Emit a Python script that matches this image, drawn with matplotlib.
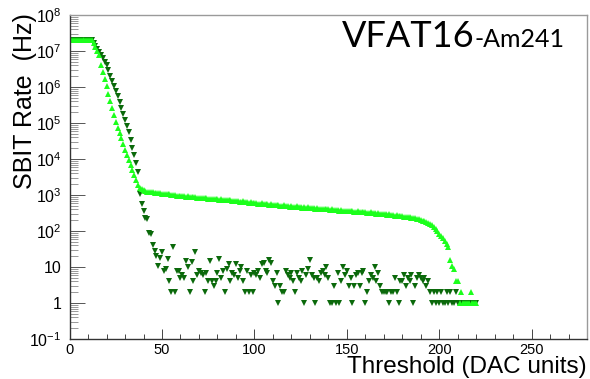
import numpy as np
import matplotlib.pyplot as plt
from matplotlib.ticker import FixedLocator, FixedFormatter, MultipleLocator, LogLocator, NullFormatter

plt.rcParams["font.family"] = ["Liberation Sans", "DejaVu Sans"]
plt.rcParams["mathtext.fontset"] = "custom"
plt.rcParams["mathtext.rm"] = "Liberation Sans"
plt.rcParams["mathtext.it"] = "Liberation Sans:italic"

# threshold scan, one step per DAC unit
threshold = np.arange(0, 221)

# upper curve (light green, up triangles)
rate_light = [
    2.0e7, 2.0e7, 2.0e7, 2.0e7, 2.0e7, 2.0e7, 2.0e7, 2.0e7, 2.0e7, 2.0e7,      # 0
    2.0e7, 2.0e7, 2.0e7, 1.7e7, 1.3e7, 1.0e7, 8.0e6, 4.0e6, 2.6e6, 1.7e6,      # 10
    1.1e6, 6.5e5, 4.0e5, 2.6e5, 1.7e5, 1.1e5, 7.5e4, 5.2e4, 3.8e4, 2.6e4,      # 20
    1.8e4, 1.3e4, 9.5e3, 7.0e3, 5.0e3, 3.6e3, 2.6e3, 1.9e3, 1.6e3, 1.45e3,     # 30
    1350, 1300, 1250, 1230, 1190, 1210, 1160, 1140, 1170, 1110,                # 40
    1080, 1100, 1060, 1040, 1070, 1010, 990, 1020, 970, 960,                   # 50
    940, 960, 920, 900, 930, 880, 890, 860, 870, 840,                          # 60
    850, 830, 840, 810, 820, 790, 800, 780, 770, 790,                          # 70
    760, 750, 770, 730, 740, 720, 710, 730, 690, 700,                          # 80
    670, 690, 660, 650, 670, 640, 630, 620, 640, 600,                          # 90
    590, 600, 580, 570, 590, 560, 550, 570, 540, 550,                          # 100
    540, 530, 520, 540, 510, 500, 520, 490, 500, 480,                          # 110
    490, 480, 470, 490, 460, 470, 450, 460, 440, 455,                          # 120
    445, 430, 440, 420, 435, 410, 420, 405, 415, 400,                          # 130
    400, 390, 405, 380, 390, 375, 370, 385, 360, 370,                          # 140
    360, 355, 350, 365, 345, 340, 350, 335, 345, 330,                          # 150
    330, 325, 320, 330, 310, 315, 305, 310, 300, 295,                          # 160
    295, 290, 285, 290, 280, 275, 270, 275, 265, 260,                          # 170
    255, 250, 250, 240, 245, 235, 230, 225, 220, 210,                          # 180
    205, 195, 190, 180, 170, 160, 145, 130, 115, 100,                          # 190
    85, 73, 63, 52, 43, 35, 16, 11, 9, 4,                                      # 200
    4, 1, 2, 1, 1, 1, 1, 2, 1, 1,                                              # 210
    1,                                                                         # 220
]

# lower curve (dark green, down triangles)
rate_dark = [
    2.0e7, 2.0e7, 2.0e7, 2.0e7, 2.0e7, 2.0e7, 2.0e7, 2.0e7, 2.0e7, 2.0e7,      # 0
    2.0e7, 2.0e7, 2.0e7, 1.7e7, 1.4e7, 1.15e7, 9.6e6, 7.8e6, 6.3e6, 5.0e6,     # 10
    4.0e6, 2.9e6, 2.1e6, 1.5e6, 1.05e6, 7.8e5, 5.6e5, 3.9e5, 2.7e5, 1.8e5,     # 20
    1.25e5, 8.5e4, 5.5e4, 3.5e4, 2.1e4, 1.3e4, 8.0e3, 4.4e3, 1100, 580,        # 30
    350, 225, 210, 90, 85, 41, 28, 20, 11, 18,                                 # 40
    26, 8, 9, 17, 4, 2, 35, 2, 8, 8,                                           # 50
    5, 6, 5, 15, 10, 2, 14, 4, 26, 6,                                          # 60
    8, 7, 6, 2, 7, 4, 15, 4, 3, 4,                                             # 70
    7, 17, 5, 8, 2, 9, 12, 4, 7, 6,                                            # 80
    12, 5, 8, 10, 4, 2, 8, 2, 6, 2,                                            # 90
    7, 6, 8, 5, 12, 13, 8, 7, 16, 13,                                          # 100
    4, 3, 7, 1, 3, 2, 2, 8, 6, 5,                                              # 110
    7, 4, 2, 7, 5, 4, 8, 1, 6, 9,                                              # 120
    16, 6, 5, 1, 5, 4, 7, 8, 6, 10,                                            # 130
    5, 1, 1, 3, 1, 7, 1, 4, 10, 6,                                             # 140
    8, 3, 5, 1, 3, 6, 7, 3, 7, 8,                                              # 150
    1, 2, 4, 6, 5, 10, 4, 7, 3, 2,                                             # 160
    2, 2, 2, 1, 2, 2, 5, 2, 1, 4,                                              # 170
    4, 6, 3, 5, 4, 6, 1, 3, 5, 6,                                              # 180
    5, 4, 5, 3, 4, 2, 1, 2, 1, 2,                                              # 190
    1, 2, 1, 1, 2, 1, 2, 1, 1, 2,                                              # 200
    1, 1, 1, 1, 1, 1, 1, 1, 1, 1,                                              # 210
    1,                                                                         # 220
]

decades = [1e-1, 1, 10, 1e2, 1e3, 1e4, 1e5, 1e6, 1e7, 1e8]
decade_labels = ["10$^{-1}$", "1", "10", "10$^{2}$", "10$^{3}$", "10$^{4}$",
                 "10$^{5}$", "10$^{6}$", "10$^{7}$", "10$^{8}$"]

fig = plt.figure(figsize=(5.9, 3.79), dpi=100)
ax = fig.add_axes([0.118, 0.1055, 0.877, 0.8545])

ax.plot(threshold, rate_dark, linestyle="none", marker="v", ms=4.8, mew=0, color="#0b690b")
ax.plot(threshold, rate_light, linestyle="none", marker="^", ms=4.8, mew=0, color="#1cff1c")

ax.set_yscale("log")
ax.set_xlim(0, 280)
ax.set_ylim(1e-1, 1e8)

ax.yaxis.set_major_locator(FixedLocator(decades))
ax.yaxis.set_major_formatter(FixedFormatter(decade_labels))
ax.yaxis.set_minor_locator(LogLocator(base=10, subs=np.arange(2, 10), numticks=50))
ax.yaxis.set_minor_formatter(NullFormatter())
ax.xaxis.set_major_locator(MultipleLocator(50))
ax.xaxis.set_minor_locator(MultipleLocator(10))

ax.tick_params(axis="y", which="major", direction="in", length=11, width=0.7,
               color="#555555", labelsize=11.5, pad=6, right=False)
ax.tick_params(axis="y", which="minor", direction="in", length=6, width=0.6,
               color="#888888", right=False)
ax.tick_params(axis="x", which="major", direction="in", length=7, width=0.7,
               color="#444444", labelsize=10.5, pad=3, top=False)
ax.tick_params(axis="x", which="minor", direction="in", length=3.5, width=0.7,
               color="#444444", top=False)

for side in ["left", "bottom"]:
    ax.spines[side].set_color("#333333")
    ax.spines[side].set_linewidth(1.0)
for side in ["top", "right"]:
    ax.spines[side].set_color("#9a9a9a")
    ax.spines[side].set_linewidth(1.0)

fig.text(25 / 590, 1 - 101 / 379, "SBIT Rate  (Hz)", rotation=90,
         ha="center", va="center", fontsize=18)
fig.text(587 / 590, 1 - 367 / 379, "Threshold (DAC units)",
         ha="right", va="center", fontsize=17.5)

fig.text(475 / 590, 1 - 47 / 379, "VFAT16", ha="right", va="baseline",
         fontsize=26, family="Lato")
fig.text(475 / 590, 1 - 47 / 379, "-Am241", ha="left", va="baseline",
         fontsize=18, family="Lato")

fig.savefig("out.png", dpi=100)
